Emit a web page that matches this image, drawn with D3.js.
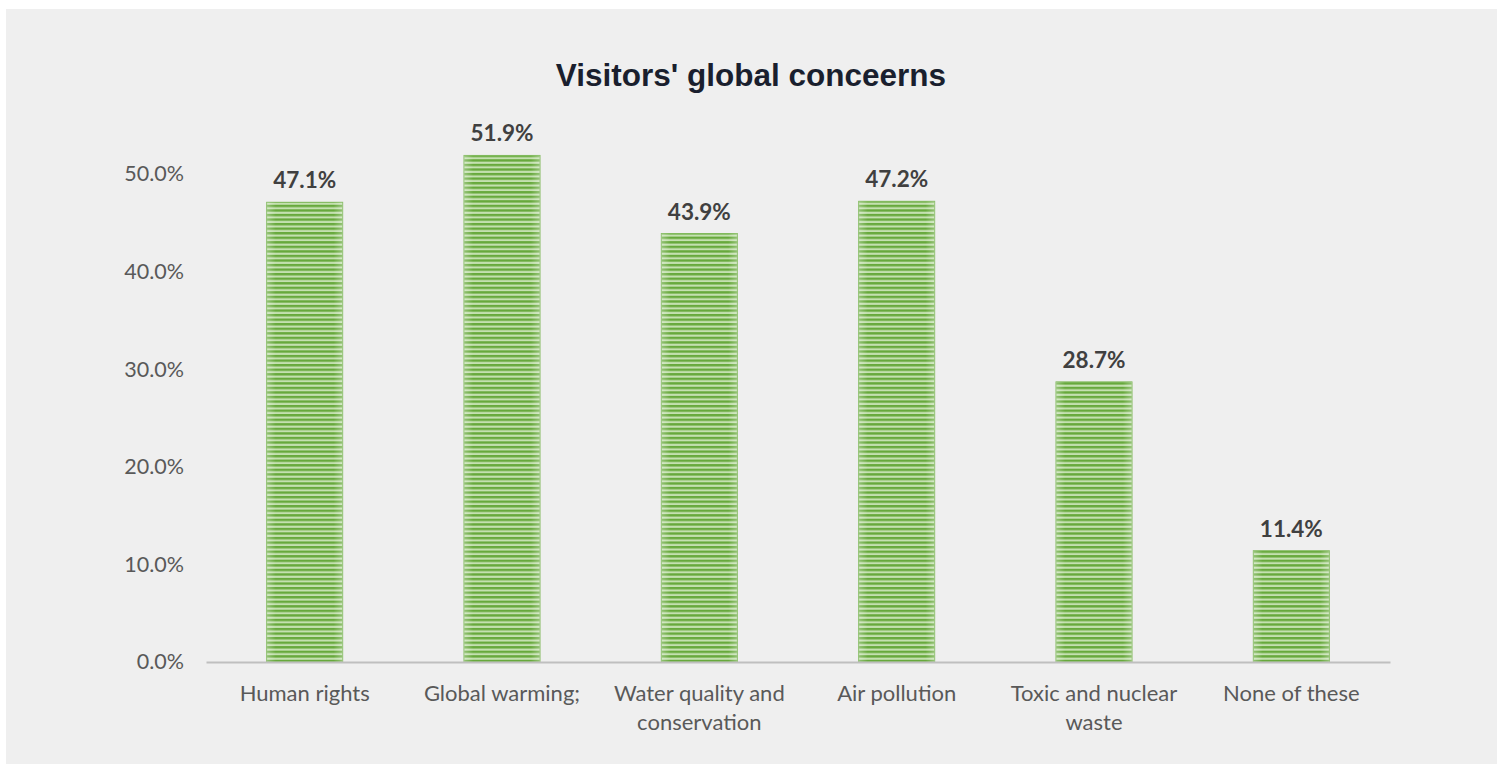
<!DOCTYPE html>
<html>
<head>
<meta charset="utf-8">
<script src="https://cdn.jsdelivr.net/npm/d3@7"></script>
<style>
  html, body { margin: 0; padding: 0; background: #ffffff; }
  svg { display: block; }
</style>
</head>
<body>
<svg id="chart" width="1502" height="765"></svg>
<script>
// Survey data: share of visitors naming each global concern
const categories = [
  ["Human rights"],
  ["Global warming;"],
  ["Water quality and", "conservation"],
  ["Air pollution"],
  ["Toxic and nuclear", "waste"],
  ["None of these"]
];
const values = [47.1, 51.9, 43.9, 47.2, 28.7, 11.4];
const yTicks = [0, 10, 20, 30, 40, 50];
const title = "Visitors' global conceerns";

const svg = d3.select("#chart");

// panel background
svg.append("rect")
  .attr("x", 6).attr("y", 9)
  .attr("width", 1491).attr("height", 755)
  .attr("fill", "#efefef");

// horizontal striped fill for the bars
const defs = svg.append("defs");
const pat = defs.append("pattern")
  .attr("id", "stripes")
  .attr("patternUnits", "userSpaceOnUse")
  .attr("width", 8).attr("height", 4.55);
pat.append("rect").attr("width", 8).attr("height", 4.55).attr("fill", "#c4e0b0");
pat.append("rect").attr("y", 0).attr("width", 8).attr("height", 2.4).attr("fill", "#67a93c");

const grad = defs.append("linearGradient").attr("id", "edgeFade")
  .attr("x1", "0").attr("x2", "1").attr("y1", "0").attr("y2", "0");
grad.append("stop").attr("offset", "0").attr("stop-color", "#ffffff").attr("stop-opacity", 0.3);
grad.append("stop").attr("offset", "0.12").attr("stop-color", "#ffffff").attr("stop-opacity", 0);
grad.append("stop").attr("offset", "0.88").attr("stop-color", "#ffffff").attr("stop-opacity", 0);
grad.append("stop").attr("offset", "1").attr("stop-color", "#ffffff").attr("stop-opacity", 0.3);

const plotLeft = 206, plotRight = 1390, plotTop = 76.4, plotBottom = 662;

const x = d3.scaleBand()
  .domain(d3.range(categories.length))
  .range([plotLeft, plotRight])
  .paddingInner(0.615)
  .paddingOuter(0.3075);

const y = d3.scaleLinear().domain([0, 60]).range([plotBottom, plotTop]);

// title
svg.append("text")
  .attr("x", 751).attr("y", 86)
  .attr("text-anchor", "middle")
  .attr("font-family", "Liberation Sans, Arial, sans-serif")
  .attr("font-weight", "bold")
  .attr("font-size", 31.5)
  .attr("fill", "#1a1f2e")
  .text(title);

// y axis labels
const yAxis = d3.axisLeft(y)
  .tickValues(yTicks)
  .tickSize(0)
  .tickPadding(0)
  .tickFormat(d => d.toFixed(1) + "%");
const yg = svg.append("g")
  .attr("transform", `translate(184,0)`)
  .call(yAxis);
yg.select(".domain").remove();
yg.selectAll("text")
  .attr("font-family", "Lato, sans-serif")
  .attr("font-size", 21.5)
  .attr("fill", "#595959");

// bars
const bars = svg.append("g");
bars.selectAll("rect.bar")
  .data(values)
  .join("rect")
  .attr("class", "bar")
  .attr("x", (d, i) => x(i))
  .attr("y", d => y(d))
  .attr("width", x.bandwidth())
  .attr("height", d => y(0) - y(d))
  .attr("fill", "url(#stripes)")
  .attr("stroke", "#7fb85a")
  .attr("stroke-width", 1);
bars.selectAll("rect.fade")
  .data(values)
  .join("rect")
  .attr("class", "fade")
  .attr("x", (d, i) => x(i))
  .attr("y", d => y(d))
  .attr("width", x.bandwidth())
  .attr("height", d => y(0) - y(d))
  .attr("fill", "url(#edgeFade)");

// value labels
svg.append("g").selectAll("text")
  .data(values)
  .join("text")
  .attr("x", (d, i) => x(i) + x.bandwidth() / 2)
  .attr("y", d => y(d) - 14)
  .attr("text-anchor", "middle")
  .attr("font-family", "Lato, sans-serif")
  .attr("font-weight", "bold")
  .attr("font-size", 22.5)
  .attr("fill", "#404040")
  .text(d => d.toFixed(1) + "%");

// x axis line
const xAxis = d3.axisBottom(x).tickSize(0).tickFormat("");
const xg = svg.append("g")
  .attr("transform", `translate(0,${plotBottom})`)
  .call(xAxis);
xg.select(".domain")
  .attr("stroke", "#bfbfbf")
  .attr("stroke-width", 2);

// category labels, wrapped
const catG = svg.append("g").selectAll("text")
  .data(categories)
  .join("text")
  .attr("text-anchor", "middle")
  .attr("font-family", "Lato, sans-serif")
  .attr("font-size", 22)
  .attr("fill", "#595959");
catG.each(function(lines, i) {
  const t = d3.select(this);
  lines.forEach((ln, k) => {
    t.append("tspan")
      .attr("x", x(i) + x.bandwidth() / 2)
      .attr("y", 701 + k * 28.5)
      .text(ln);
  });
});
</script>
</body>
</html>
